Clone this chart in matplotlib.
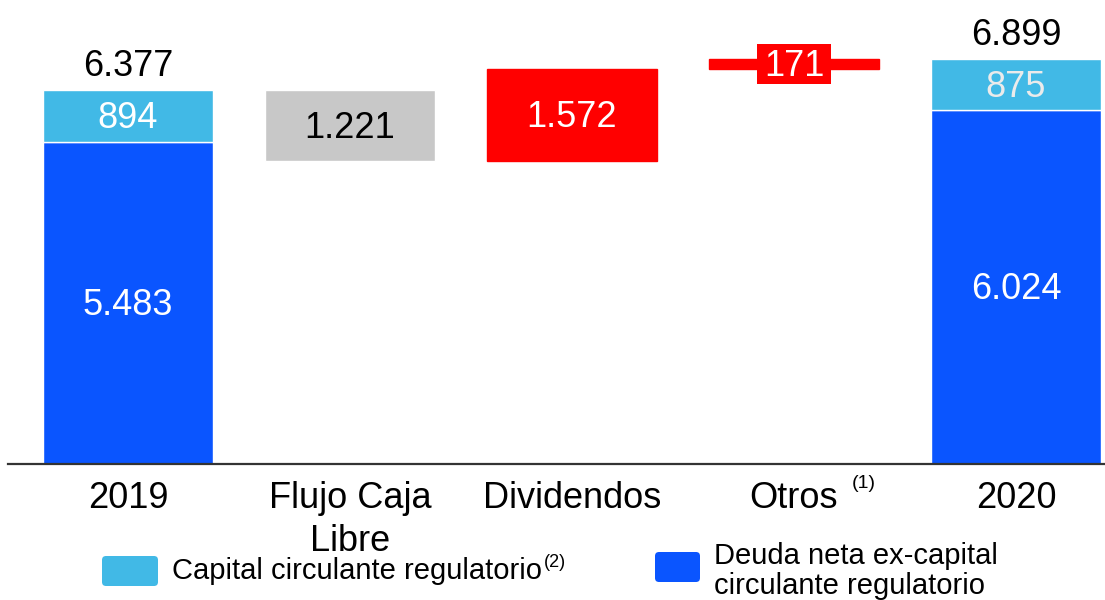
import matplotlib
matplotlib.use("Agg")
import matplotlib.pyplot as plt
from matplotlib.patches import FancyBboxPatch, Rectangle

plt.rcParams['font.family'] = ['Liberation Sans', 'DejaVu Sans']

# ---- data ----
categories = ["2019", "Flujo Caja\nLibre", "Dividendos", "Otros", "2020"]
start_deuda = 5483
start_capital = 894
end_deuda = 6024
end_capital = 875
change_values = [-1221, 1572, 171]   # Flujo Caja Libre, Dividendos, Otros

legend_labels = ["Capital circulante regulatorio", "Deuda neta ex-capital\ncirculante regulatorio"]

# ---- style ----
C_LIGHT = "#41B9E6"
C_BLUE = "#0A55FF"
C_GREY = "#C8C8C8"
C_RED = "#FF0000"
FS = 26
W = 0.766
DY = -2  # small downward nudge (points) for labels centered in bars


def fmt(v):
    return f"{abs(v):,}".replace(",", ".")


def inner(ax, xv, yv, s, color, z=3):
    ax.annotate(s, xy=(xv, yv), xytext=(0, DY), textcoords="offset points",
                ha="center", va="center", fontsize=FS, color=color, zorder=z)


fig = plt.figure(figsize=(11.05, 6.0), dpi=100)
ax = fig.add_axes([8 / 1105, 136 / 600, 1 - 8 / 1105, 464 / 600])
ax.set_xlim(-0.5405, 4.4009)
ax.set_ylim(0, 464 * 17.03)

x = list(range(len(categories)))

# first stacked bar
ax.bar(x[0], start_deuda, width=W, color=C_BLUE, edgecolor="white", linewidth=1)
ax.bar(x[0], start_capital, bottom=start_deuda, width=W, color=C_LIGHT, edgecolor="white", linewidth=1)
t0 = start_deuda + start_capital
inner(ax, x[0], start_deuda / 2, fmt(start_deuda), "white")
inner(ax, x[0], start_deuda + start_capital / 2, fmt(start_capital), "white")
ax.annotate(fmt(t0), xy=(x[0], t0), xytext=(0, 4), textcoords="offset points",
            ha="center", va="bottom", fontsize=FS, color="black")

# floating change bars
running = t0
for i, v in enumerate(change_values):
    xi = x[i + 1]
    bottom = running + min(v, 0)
    h = abs(v)
    col = C_GREY if v < 0 else C_RED
    ax.bar(xi, h, bottom=bottom, width=W, color=col, edgecolor="white" if v < 0 else col, linewidth=1)
    mid = bottom + h / 2
    if h > 500:
        inner(ax, xi, mid, fmt(v), "black" if v < 0 else "white")
    else:
        box_w = 0.33
        box_h = 40 * 17.03
        ax.add_patch(Rectangle((xi - box_w / 2, mid - box_h / 2), box_w, box_h,
                               facecolor=C_RED, edgecolor="none", zorder=3))
        inner(ax, xi, mid, fmt(v), "white", z=4)
    running += v

# final stacked bar
ax.bar(x[4], end_deuda, width=W, color=C_BLUE, edgecolor="white", linewidth=1)
ax.bar(x[4], end_capital, bottom=end_deuda, width=W, color=C_LIGHT, edgecolor="white", linewidth=1)
t1 = end_deuda + end_capital
inner(ax, x[4], end_deuda / 2, fmt(end_deuda), "white")
inner(ax, x[4], end_deuda + end_capital / 2, fmt(end_capital), "#EBEBEB")
ax.annotate(fmt(t1), xy=(x[4], t1), xytext=(0, 4), textcoords="offset points",
            ha="center", va="bottom", fontsize=FS, color="black")

# axes styling
for s in ["top", "right", "left"]:
    ax.spines[s].set_visible(False)
ax.spines["bottom"].set_color("#333333")
ax.spines["bottom"].set_linewidth(1.6)
ax.set_yticks([])
ax.set_xticks(x)
ax.set_xticklabels(categories, fontsize=FS, linespacing=1.3)
ax.tick_params(axis="x", length=0, pad=12)

# superscript on Otros
ax.annotate("(1)", xy=(x[3], 0), xytext=(50, -8), textcoords="offset points",
            ha="center", va="top", fontsize=14, annotation_clip=False)

# legend (manual)
def inch(px_x, px_y):
    return px_x / 100, (600 - px_y) / 100

x0, y0 = inch(102, 586)
fig.add_artist(FancyBboxPatch((x0, y0), 0.56, 0.30, boxstyle="round,pad=0,rounding_size=0.04",
                              transform=fig.dpi_scale_trans, facecolor=C_LIGHT, edgecolor="none"))
x1, y1 = inch(655, 582)
fig.add_artist(FancyBboxPatch((x1, y1), 0.45, 0.30, boxstyle="round,pad=0,rounding_size=0.04",
                              transform=fig.dpi_scale_trans, facecolor=C_BLUE, edgecolor="none"))

LFS = 21
t_leg1 = fig.text(172 / 1105, 1 - 579 / 600, legend_labels[0], fontsize=LFS, ha="left", va="baseline")
ax.annotate("(2)", xy=(1, 0), xycoords=t_leg1, xytext=(1, 22), textcoords="offset points",
            ha="left", va="top", fontsize=13, annotation_clip=False)
l2a, l2b = legend_labels[1].split("\n")
fig.text(714 / 1105, 1 - 564 / 600, l2a, fontsize=LFS, ha="left", va="baseline")
fig.text(714 / 1105, 1 - 594 / 600, l2b, fontsize=LFS, ha="left", va="baseline")

fig.savefig("out.png", dpi=100)
